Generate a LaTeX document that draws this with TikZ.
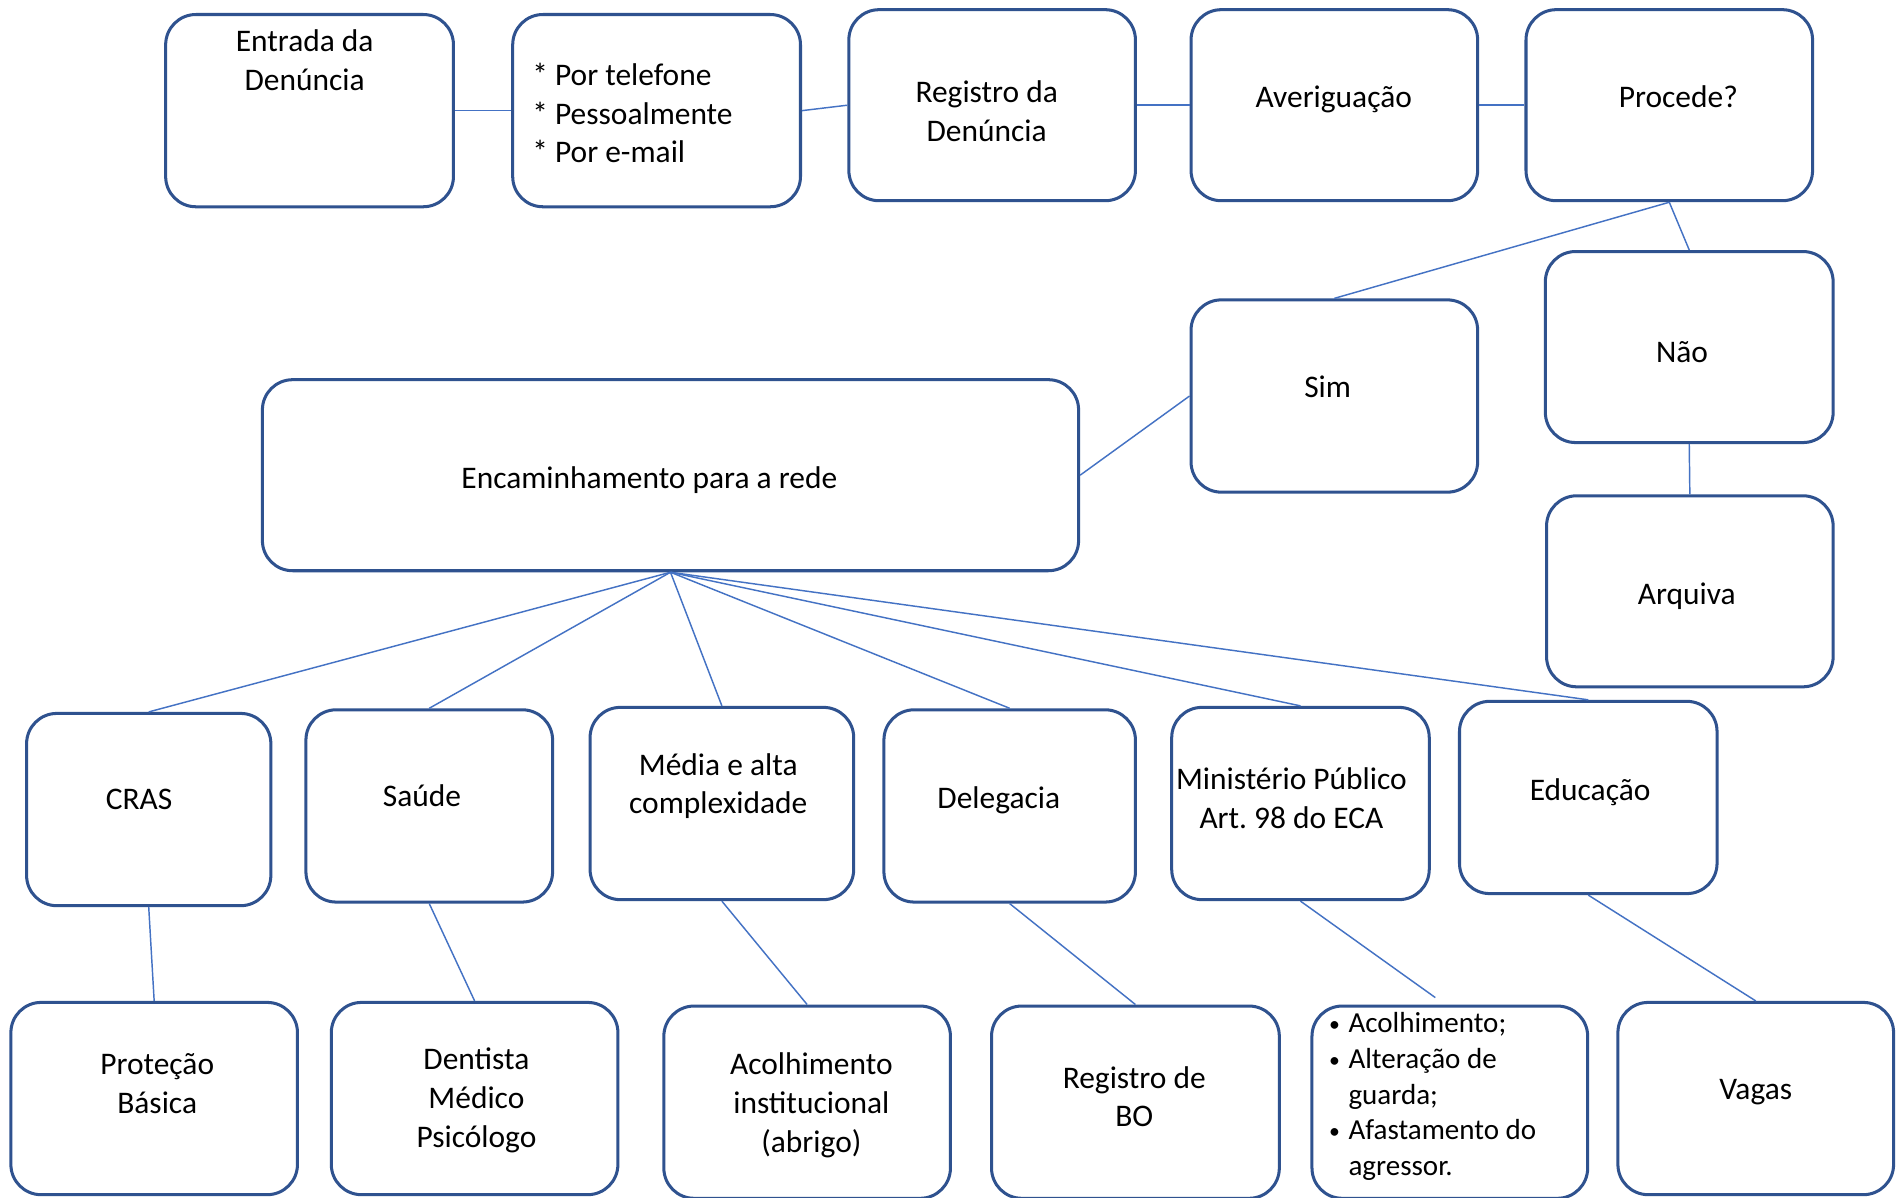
\documentclass[tikz,border=0pt]{standalone}
\usepackage{fontspec}
\setmainfont{Carlito}
\frenchspacing
\definecolor{boxblue}{HTML}{2F528F}
\definecolor{lineblue}{HTML}{4472C4}
\newcommand{\smallbullet}{\makebox[16pt][l]{\raisebox{1pt}{\fontsize{18}{18}\selectfont •}}}
\begin{document}
\begin{tikzpicture}[x=1pt,y=-1pt,
  box/.style={draw=boxblue, line width=2.5pt, rounded corners=25pt, fill=white,
              inner sep=0pt, minimum width=#1},
  box/.default=237pt,
  txt/.style={inner sep=0pt, align=center, font=\fontsize{26}{32}\selectfont},
  link/.style={draw=lineblue, line width=1.2pt}]
\useasboundingbox (0,0) rectangle (1568,990);
\clip (0,0) rectangle (1568,990);
\fill[white] (0,0) rectangle (1568,990);

% top row
\node[box=238pt, minimum height=159pt] (entrada)  at (256,91.5) {};
\node[box=238pt, minimum height=159pt] (meios)    at (543,91.5) {};
\node[box, minimum height=158pt]       (registro) at (820.5,87) {};
\node[box, minimum height=158pt]       (aver)     at (1103.5,87) {};
\node[box, minimum height=158pt]       (procede)  at (1380.5,87) {};

\node[txt] (t-entrada)  at (252,50) {Entrada da\\Denúncia};
\node[txt, align=left, anchor=west] (t-meios) at (440,93.5) {* Por telefone\\* Pessoalmente\\* Por e-mail};
\node[txt] (t-registro) at (816,92) {Registro da\\Denúncia};
\node[txt] (t-aver)     at (1103,82) {Averiguação};
\node[txt] (t-procede)  at (1388,80) {Procede?};

% decision branches
\node[box, minimum height=159pt]       (sim)     at (1103.5,327.5) {};
\node[box=238pt, minimum height=158pt] (nao)     at (1397,287) {};
\node[box, minimum height=158pt]       (arquiva) at (1397.5,489) {};
\node[box=675pt, minimum height=158pt] (encam)   at (554.5,393) {};

\node[txt] (t-sim)     at (1098,320) {Sim};
\node[txt] (t-nao)     at (1391,291) {Não};
\node[txt] (t-arquiva) at (1395,493) {Arquiva};
\node[txt] (t-encam)   at (537,397) {Encaminhamento para a rede};

% network services
\node[box=202pt, minimum height=159pt] (cras)      at (123,669.5) {};
\node[box=204pt, minimum height=159pt] (saude)     at (355,666.5) {};
\node[box=218pt, minimum height=159pt] (media)     at (597,664.5) {};
\node[box=208pt, minimum height=159pt] (delegacia) at (835,666.5) {};
\node[box=213pt, minimum height=159pt] (mp)        at (1075.5,664.5) {};
\node[box=213pt, minimum height=159pt] (educacao)  at (1313.5,659.5) {};

\node[txt] (t-cras)      at (115,661) {CRAS};
\node[txt] (t-saude)     at (349,658) {Saúde};
\node[txt] (t-media)     at (594,650) {Média e alta\\complexidade};
\node[txt] (t-delegacia) at (826,662) {Delegacia};
\node[txt] (t-mp)        at (1068,660) {Ministério Público\\Art. 98 do ECA};
\node[txt] (t-educacao)  at (1315,655) {Educação};

% actions
\node[box, minimum height=159pt]       (protecao) at (127.5,908.5) {};
\node[box, minimum height=159pt]       (dentista) at (392.5,908.5) {};
\node[box, minimum height=159pt]       (acolh)    at (667.5,911.5) {};
\node[box=238pt, minimum height=159pt] (bo)       at (939,911.5) {};
\node[box=228pt, minimum height=159pt] (medidas)  at (1199,911.5) {};
\node[box=228pt, minimum height=159pt] (vagas)    at (1452,908.5) {};

\node[txt] (t-protecao) at (130,896) {Proteção\\Básica};
\node[txt] (t-dentista) at (394,910) {Dentista\\Médico\\Psicólogo};
\node[txt] (t-acolh)    at (671,914) {Acolhimento\\institucional\\(abrigo)};
\node[txt] (t-bo)       at (938,907) {Registro de\\BO};
\node[txt, align=left, anchor=west, font=\fontsize{24}{29.5}\selectfont] (t-medidas) at (1099,907)
  {\smallbullet Acolhimento;\\
   \smallbullet Alteração de\\
   \hspace*{16pt}guarda;\\
   \smallbullet Afastamento do\\
   \hspace*{16pt}agressor.};
\node[txt] (t-vagas)    at (1452,903) {Vagas};

\coordinate (mp-end) at (1187,825);

% connectors
\path[link] (entrada.east) -- (meios.west);
\path[link] (meios.east) -- (registro.west);
\path[link] (registro.east) -- (aver.west);
\path[link] (aver.east) -- (procede.west);
\path[link] (procede.south) -- (sim.north);
\path[link] (procede.south) -- (nao.north);
\path[link] (nao.south) -- (arquiva.north);
\path[link] (sim.west) -- (encam.east);
\foreach \n in {cras,saude,media,delegacia,mp,educacao}
  \path[link] (encam.south) -- (\n.north);
\path[link] (cras.south) -- (protecao.north);
\path[link] (saude.south) -- (dentista.north);
\path[link] (media.south) -- (acolh.north);
\path[link] (delegacia.south) -- (bo.north);
\path[link] (mp.south) -- (mp-end);
\path[link] (educacao.south) -- (vagas.north);
\end{tikzpicture}
\end{document}
